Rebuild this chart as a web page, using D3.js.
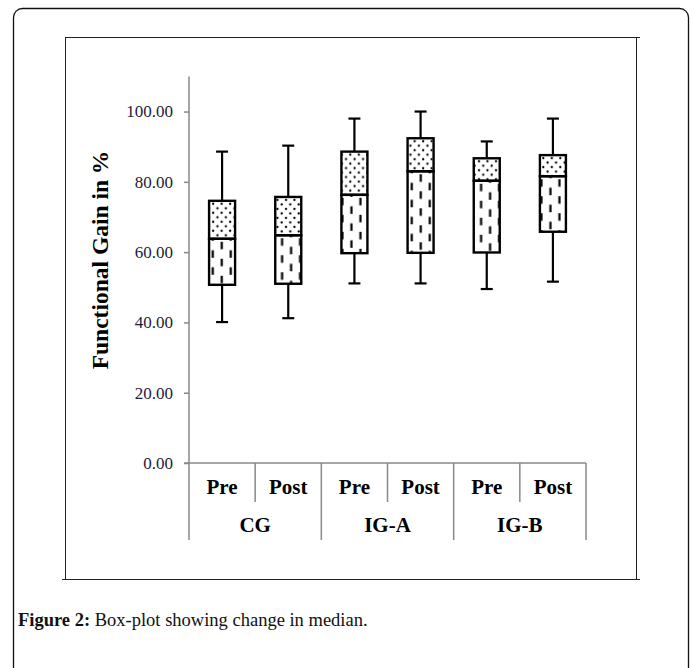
<!DOCTYPE html>
<html>
<head>
<meta charset="utf-8">
<script src="https://cdn.jsdelivr.net/npm/d3@7"></script>
<style>
  body { margin: 0; background: #fff; }
  svg { display: block; }
  text { font-family: "Liberation Serif", "Times New Roman", serif; }
</style>
</head>
<body>
<svg id="canvas" width="693" height="668"></svg>
<script>
(function() {

  // categories
  var subgroups = ["Pre", "Post", "Pre", "Post", "Pre", "Post"];
  var groups = ["CG", "IG-A", "IG-B"];
  var yTicks = [0, 20, 40, 60, 80, 100];

  // box plot values
  var whiskerLow  = [40.1, 41.2, 51.1, 51.1, 49.5, 51.6];
  var q1          = [50.7, 51.0, 59.7, 59.8, 59.9, 65.8];
  var median      = [63.8, 64.8, 76.3, 83.0, 80.3, 81.6];
  var q3          = [74.6, 75.7, 88.6, 92.4, 86.7, 87.6];
  var whiskerHigh = [88.6, 90.3, 98.0, 100.0, 91.5, 98.0];

  var svg = d3.select("#canvas");

  var y = d3.scaleLinear().domain([0, 110]).range([463, 76.4]);
  var x = d3.scaleBand().domain(d3.range(subgroups.length)).range([189, 586]);
  var gx = d3.scaleBand().domain(groups).range([189, 586]);
  var bw = 26, cap = 12;
  var boxLeft = function(i) { return x(i) + x.bandwidth() / 2 - bw / 2; };

  // patterns, one per box so the fill lines up with each box edge
  var defs = svg.append("defs");
  var dots = defs.selectAll("pattern.dots")
    .data(d3.range(subgroups.length))
    .join("pattern")
    .attr("class", "dots")
    .attr("id", function(i) { return "dots" + i; })
    .attr("patternUnits", "userSpaceOnUse")
    .attr("x", function(i) { return boxLeft(i); })
    .attr("y", function(i) { return y(q3[i]); })
    .attr("width", 8.5).attr("height", 9);
  dots.append("circle").attr("cx", 3).attr("cy", 3).attr("r", 1.15).attr("fill", "#000");
  dots.append("circle").attr("cx", 7.25).attr("cy", 7.5).attr("r", 1.15).attr("fill", "#000");

  var dashes = defs.selectAll("pattern.dashes")
    .data(d3.range(subgroups.length))
    .join("pattern")
    .attr("class", "dashes")
    .attr("id", function(i) { return "dashes" + i; })
    .attr("patternUnits", "userSpaceOnUse")
    .attr("x", function(i) { return boxLeft(i); })
    .attr("y", function(i) { return y(median[i]); })
    .attr("width", 18).attr("height", 17);
  dashes.append("rect").attr("x", 5.5).attr("y", 3).attr("width", 2.2).attr("height", 7.5).attr("fill", "#000");
  dashes.append("rect").attr("x", 14.5).attr("y", 11.5).attr("width", 2.2).attr("height", 7.5).attr("fill", "#000");
  dashes.append("rect").attr("x", 14.5).attr("y", -5.5).attr("width", 2.2).attr("height", 7.5).attr("fill", "#000");

  // outer frame and chart box
  svg.append("rect")
    .attr("x", 13.5).attr("y", 8.5).attr("width", 675).attr("height", 720)
    .attr("rx", 9).attr("fill", "none").attr("stroke", "#111").attr("stroke-width", 1.3);

  svg.append("rect")
    .attr("x", 65.5).attr("y", 37.5).attr("width", 571).attr("height", 542)
    .attr("fill", "#fff").attr("stroke", "#222").attr("stroke-width", 1);
  svg.append("line").attr("x1", 636).attr("x2", 640).attr("y1", 37.5).attr("y2", 37.5).attr("stroke", "#222");
  svg.append("line").attr("x1", 62).attr("x2", 640).attr("y1", 579.5).attr("y2", 579.5).attr("stroke", "#222");

  // y axis
  var yAxis = svg.append("g")
    .attr("transform", "translate(189,0)")
    .call(d3.axisLeft(y).tickValues(yTicks).tickFormat(d3.format(".2f")).tickSize(5).tickPadding(11));
  yAxis.select(".domain").remove();
  yAxis.selectAll(".tick line").attr("stroke", "#888").attr("stroke-width", 1.5);
  yAxis.selectAll(".tick text")
    .attr("fill", "#1c1c38")
    .style("font-size", "17px")
    .style("font-family", "'Liberation Serif', serif");

  svg.append("line")
    .attr("x1", 189).attr("x2", 189).attr("y1", y(110)).attr("y2", 540)
    .attr("stroke", "#888").attr("stroke-width", 1.5);
  svg.append("line")
    .attr("x1", 184).attr("x2", 586).attr("y1", y(0)).attr("y2", y(0))
    .attr("stroke", "#888").attr("stroke-width", 1.5);

  // category separators
  d3.range(1, subgroups.length + 1).forEach(function(i) {
    var xx = x.range()[0] + i * x.bandwidth();
    svg.append("line")
      .attr("x1", xx).attr("x2", xx)
      .attr("y1", y(0)).attr("y2", i % 2 === 0 ? 540 : 502)
      .attr("stroke", "#888").attr("stroke-width", 1.5);
  });

  svg.append("g").selectAll("text")
    .data(subgroups)
    .join("text")
    .attr("x", function(d, i) { return x(i) + x.bandwidth() / 2; })
    .attr("y", 494)
    .attr("text-anchor", "middle")
    .style("font-size", "21px").style("font-weight", "bold")
    .text(function(d) { return d; });

  svg.append("g").selectAll("text")
    .data(groups)
    .join("text")
    .attr("x", function(d) { return gx(d) + gx.bandwidth() / 2; })
    .attr("y", 532)
    .attr("text-anchor", "middle")
    .style("font-size", "21px").style("font-weight", "bold")
    .text(function(d) { return d; });

  // y title
  svg.append("text")
    .attr("transform", "translate(108,260) rotate(-90)")
    .attr("text-anchor", "middle")
    .style("font-size", "23.5px").style("font-weight", "bold")
    .text("Functional Gain in %");

  // boxes
  var boxes = svg.append("g").selectAll("g")
    .data(d3.range(subgroups.length))
    .join("g")
    .attr("transform", function(i) { return "translate(" + (x(i) + x.bandwidth() / 2) + ",0)"; });

  boxes.append("line")
    .attr("y1", function(i) { return y(whiskerHigh[i]); })
    .attr("y2", function(i) { return y(q3[i]); })
    .attr("stroke", "#000").attr("stroke-width", 2.2);
  boxes.append("line")
    .attr("y1", function(i) { return y(q1[i]); })
    .attr("y2", function(i) { return y(whiskerLow[i]); })
    .attr("stroke", "#000").attr("stroke-width", 2.2);
  boxes.append("line")
    .attr("x1", -cap / 2).attr("x2", cap / 2)
    .attr("y1", function(i) { return y(whiskerHigh[i]); })
    .attr("y2", function(i) { return y(whiskerHigh[i]); })
    .attr("stroke", "#000").attr("stroke-width", 2.2);
  boxes.append("line")
    .attr("x1", -cap / 2).attr("x2", cap / 2)
    .attr("y1", function(i) { return y(whiskerLow[i]); })
    .attr("y2", function(i) { return y(whiskerLow[i]); })
    .attr("stroke", "#000").attr("stroke-width", 2.2);

  boxes.append("rect")
    .attr("x", -bw / 2).attr("width", bw)
    .attr("y", function(i) { return y(q3[i]); })
    .attr("height", function(i) { return y(median[i]) - y(q3[i]); })
    .attr("fill", function(i) { return "url(#dots" + i + ")"; })
    .attr("stroke", "#000").attr("stroke-width", 2.4);
  boxes.append("rect")
    .attr("x", -bw / 2).attr("width", bw)
    .attr("y", function(i) { return y(median[i]); })
    .attr("height", function(i) { return y(q1[i]) - y(median[i]); })
    .attr("fill", function(i) { return "url(#dashes" + i + ")"; })
    .attr("stroke", "#000").attr("stroke-width", 2.4);

  // caption
  var cap2 = svg.append("text").attr("x", 18).attr("y", 626).style("font-size", "18.5px").attr("fill", "#111");
  cap2.append("tspan").style("font-weight", "bold").text("Figure 2:");
  cap2.append("tspan").text(" Box-plot showing change in median.");

})();
</script>
</body>
</html>
